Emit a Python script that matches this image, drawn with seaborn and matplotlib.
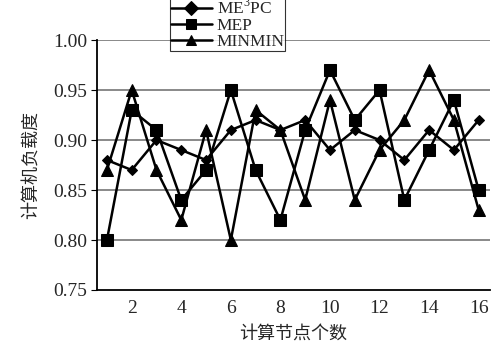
import pandas as pd
import seaborn as sns
import matplotlib.pyplot as plt

# Computer load vs number of compute nodes

nodes = list(range(1, 17))
me3pc = [0.88, 0.87, 0.90, 0.89, 0.88, 0.91, 0.92, 0.91, 0.92, 0.89, 0.91, 0.90, 0.88, 0.91, 0.89, 0.92]
mep = [0.80, 0.93, 0.91, 0.84, 0.87, 0.95, 0.87, 0.82, 0.91, 0.97, 0.92, 0.95, 0.84, 0.89, 0.94, 0.85]
minmin = [0.87, 0.95, 0.87, 0.82, 0.91, 0.80, 0.93, 0.91, 0.84, 0.94, 0.84, 0.89, 0.92, 0.97, 0.92, 0.83]
series_names = ['ME$^\\mathrm{3}$PC', 'MEP', 'MINMIN']
x_ticks = [2, 4, 6, 8, 10, 12, 14, 16]
y_ticks = [0.75, 0.80, 0.85, 0.90, 0.95, 1.00]

df = pd.DataFrame({
    'node': nodes * 3,
    'load': me3pc + mep + minmin,
    'algo': [series_names[0]] * 16 + [series_names[1]] * 16 + [series_names[2]] * 16,
})

sns.set_style('white')
plt.rcParams['font.family'] = ['Liberation Serif', 'Noto Sans CJK SC']
plt.rcParams['mathtext.fontset'] = 'custom'
plt.rcParams['mathtext.rm'] = 'Liberation Serif'

fig = plt.figure(figsize=(4.91, 3.56), dpi=100)
ax = fig.add_axes([0.1976, 0.1854, 0.80, 0.702])

sns.lineplot(data=df, x='node', y='load', hue='algo', style='algo',
             palette=['black'] * 3, markers=['D', 's', '^'], dashes=False,
             linewidth=1.8, markersize=7, markeredgecolor='black', ax=ax)
for line, ms in zip(ax.lines[:3], [5.5, 8, 8]):
    line.set_markersize(ms)

ax.set_xlim(0.6, 16.45)
ax.set_ylim(0.75, 1.0)
ax.set_yticks(y_ticks)
ax.set_yticklabels([f'{v:.2f}' for v in y_ticks], fontsize=14)
ax.set_xticks(x_ticks)
ax.set_xticklabels([str(v) for v in x_ticks], fontsize=14)
ax.set_xticks([n + 0.5 for n in nodes[:-1]], minor=True)
ax.tick_params(axis='x', which='major', length=0, pad=7)
ax.tick_params(axis='x', which='minor', direction='in', length=3, width=0.8, color='black')
ax.tick_params(axis='y', direction='out', length=4, width=0.8, color='black', left=True, pad=3)

for v in y_ticks[1:]:
    ax.axhline(v, color='#808080', linewidth=1.3, zorder=0)

for side in ['top', 'right']:
    ax.spines[side].set_visible(False)
for side in ['left', 'bottom']:
    ax.spines[side].set_color('black')
    ax.spines[side].set_linewidth(1.3)

ax.set_xlabel('计算节点个数', fontsize=13, family=['Noto Sans CJK SC'], labelpad=6)
ax.set_ylabel('计算机负载度', fontsize=13, family=['Noto Sans CJK SC'], labelpad=10)

leg = ax.legend(loc='lower left', bbox_to_anchor=(0.185, 0.955), fontsize=12.5,
                frameon=True, fancybox=False, handlelength=2.4, borderpad=0.05,
                labelspacing=0.0, handletextpad=0.25, borderaxespad=0)
leg.get_frame().set_edgecolor('black')
leg.get_frame().set_linewidth(0.8)
leg.set_zorder(5)

fig.savefig('out.png', dpi=100)
